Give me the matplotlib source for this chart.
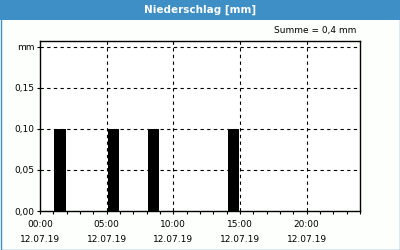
import matplotlib
matplotlib.use("Agg")
import matplotlib.pyplot as plt
from matplotlib.patches import Rectangle
from matplotlib.ticker import MultipleLocator, FixedLocator

# Data
rain_hours = [1, 5, 8, 14]          # start hour of each interval
rain_mm = [0.1, 0.1, 0.1, 0.1]
x_ticks = [0, 5, 10, 15, 20]
x_labels = ["00:00\n12.07.19", "05:00\n12.07.19", "10:00\n12.07.19",
            "15:00\n12.07.19", "20:00\n12.07.19"]
y_ticks = [0.0, 0.05, 0.10, 0.15, 0.20]
y_labels = ["0,00", "0,05", "0,10", "0,15", "mm"]
total_text = "Summe = 0,4 mm"

BLUE = "#3d8fc6"
plt.rcParams['font.family'] = ['DejaVu Sans']

fig = plt.figure(figsize=(4, 2.5), dpi=100, facecolor="#fdfffd")

# header band and frame border
fig.patches.append(Rectangle((0, 1 - 20/250), 1, 20/250, transform=fig.transFigure,
                             facecolor=BLUE, edgecolor="none", zorder=0))
fig.patches.append(Rectangle((0.5/400, 0.5/250), 1 - 1/400, 1 - 1/250, transform=fig.transFigure,
                             facecolor="none", edgecolor=BLUE, lw=1.0, zorder=1))
fig.text(0.5, 1 - 10/250, "Niederschlag [mm]", color="white", fontsize=7.5,
         fontweight="bold", ha="center", va="center")

ax = fig.add_axes([40/400, 39/250, 320/400, 170/250])
ax.set_facecolor("white")

centers = [h + 0.5 for h in rain_hours]
ax.bar(centers, rain_mm, width=0.85, color="black", zorder=3)

ax.set_xlim(0, 24)
ax.set_ylim(0, 0.2073)

ax.xaxis.set_major_locator(FixedLocator(x_ticks))
ax.xaxis.set_minor_locator(MultipleLocator(1))
ax.set_xticks(x_ticks)
ax.set_xticklabels(x_labels, fontsize=6.5, linespacing=1.9)
ax.set_yticks(y_ticks)
ax.set_yticklabels(y_labels, fontsize=6.5)

ax.tick_params(axis="x", which="both", direction="out", length=2.5, width=0.8, pad=4)
ax.tick_params(axis="y", which="major", direction="out", length=2.5, width=0.8, pad=1.5)

for v in [5, 10, 15, 20]:
    ax.axvline(v, color="black", lw=0.8, ls=(0, (3, 3)), zorder=2)
for v in [0.05, 0.10, 0.15, 0.20]:
    ax.axhline(v, color="black", lw=0.8, ls=(0, (3, 3)), zorder=2)

for s in ax.spines.values():
    s.set_linewidth(1.0)
    s.set_color("black")

fig.text(356/400, 1 - 31/250, total_text, fontsize=6.5, ha="right", va="center")

fig.savefig("out.png", dpi=100, facecolor=fig.get_facecolor())
